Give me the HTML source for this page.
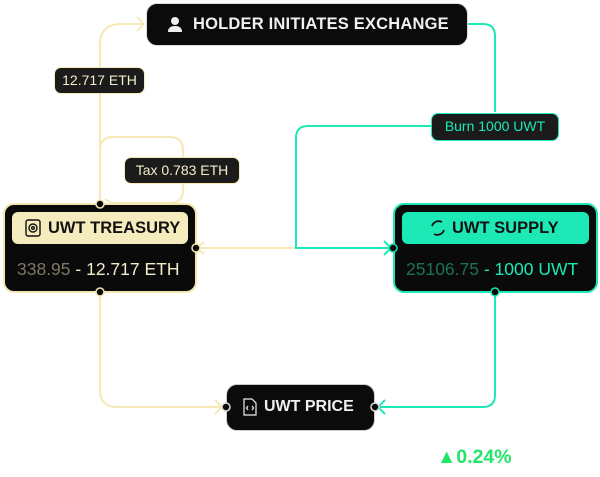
<!DOCTYPE html>
<html><head><style>
body{margin:0;width:600px;height:477px;background:#fff;position:relative;overflow:hidden;font-family:"Liberation Sans",sans-serif}
.n{position:absolute;box-sizing:border-box}
</style></head><body>
<svg width="600" height="477" style="position:absolute;left:0;top:0" fill="none">
<g stroke="#f5e9b8" stroke-width="2">
<path d="M100 204 V45 Q100 24 121 24 H143"/>
<path d="M137 17 L144 24 L137 31"/>
<path d="M100 204 V150 Q100 137 113 137 H170 Q183 137 183 150 V190 Q183 203 170 203 H112 L105 199"/>
<path d="M296 248 H198"/>
<path d="M204 242 L197 248 L204 254"/>
<path d="M100 292 V390 Q100 407 117 407 H222"/>
<path d="M215 400 L222 407 L215 414"/>
</g>
<g stroke="#1de9b6" stroke-width="2">
<path d="M468 24 H483 Q495 24 495 36 V112"/>
<path d="M431 126 H308 Q296 126 296 138 V248 H391"/>
<path d="M384 241 L391 248 L384 255"/>
<path d="M495 292 V395 Q495 407 483 407 H378"/>
<path d="M385 400 L378 407 L385 414"/>
</g>
</svg>

<div class="n" style="left:146px;top:3px;width:322px;height:43px;background:#0b0b0b;border:1.5px solid #ddd;border-radius:11px;color:#f0f0f0;font-weight:bold;font-size:16.5px;line-height:40px;padding-left:46px;letter-spacing:.2px;white-space:nowrap">HOLDER INITIATES EXCHANGE
<svg width="16" height="16" style="position:absolute;left:20px;top:12px"><circle cx="8" cy="5" r="4" fill="#eee"/><path d="M1 16 Q1 10 8 10 Q15 10 15 16Z" fill="#eee"/></svg></div>

<div class="n" style="left:54px;top:67px;width:91px;height:27px;background:#1b1b1b;border:1.5px solid #f5e9b8;border-radius:7px;color:#f5ecc8;font-size:14px;line-height:24px;text-align:center">12.717 ETH</div>
<div class="n" style="left:124px;top:157px;width:116px;height:27px;background:#1b1b1b;border:1.5px solid #f5e9b8;border-radius:7px;color:#f5ecc8;font-size:14px;line-height:24px;text-align:center">Tax 0.783 ETH</div>
<div class="n" style="left:431px;top:113px;width:128px;height:28px;background:#1b1b1b;border:1.5px solid #1de9b6;border-radius:7px;color:#1de9b6;font-size:14px;line-height:25px;text-align:center">Burn 1000 UWT</div>

<div class="n" style="left:3px;top:203px;width:194px;height:90px;background:#0a0a0a;border:2px solid #f3e6b0;border-radius:11px">
<div class="n" style="left:7px;top:7px;width:176px;height:32px;background:#f5ebbc;border-radius:6px;color:#111;font-weight:bold;font-size:16.5px;line-height:32px;padding-left:36px;white-space:nowrap">UWT TREASURY
<svg width="16" height="18" fill="none" style="position:absolute;left:13px;top:7px" stroke="#111" stroke-width="1.4"><rect x="1" y="1" width="14" height="16" rx="2"/><circle cx="8" cy="9" r="4"/><circle cx="8" cy="9" r="1.3"/></svg></div>
<div style="position:absolute;left:12px;top:54px;font-size:17.5px;color:#f4ecc8;white-space:nowrap"><span style="color:#7d7764">338.95</span> - 12.717 ETH</div>
</div>

<div class="n" style="left:393px;top:203px;width:205px;height:90px;background:#0a0a0a;border:2px solid #1de9b6;border-radius:11px">
<div class="n" style="left:7px;top:7px;width:187px;height:32px;background:#1de9b6;border-radius:6px;color:#111;font-weight:bold;font-size:16.5px;line-height:32px;padding-left:50px;white-space:nowrap">UWT SUPPLY
<svg width="18" height="18" fill="none" style="position:absolute;left:27px;top:7px" stroke="#111" stroke-width="1.8"><path d="M3 7 A7 7 0 0 1 13 3 M15 11 A7 7 0 0 1 5 15"/></svg></div>
<div style="position:absolute;left:11px;top:54px;font-size:17.5px;color:#1de9b6;white-space:nowrap"><span style="color:#1c7258">25106.75</span> - 1000 UWT</div>
</div>

<div class="n" style="left:226px;top:384px;width:149px;height:47px;background:#0b0b0b;border:1.5px solid #ccc;border-radius:11px;color:#f0f0f0;font-weight:bold;font-size:16px;line-height:44px;padding-left:37px">UWT PRICE
<svg width="14" height="18" fill="none" style="position:absolute;left:16px;top:13px" stroke="#eee" stroke-width="1.2"><path d="M1 1 H9 L13 5 V17 H1Z"/><path d="M5 8 L3.5 10 L5 12 M9 8 L10.5 10 L9 12"/></svg></div>

<div style="position:absolute;left:437px;top:446px;color:#22e56a;font-weight:bold;font-size:19.5px">▲0.24%</div>

<svg width="600" height="477" style="position:absolute;left:0;top:0">
<g fill="#0a0a0a" stroke="#f3e6b0" stroke-width="1.5">
<circle cx="100" cy="204" r="4"/><circle cx="196" cy="248" r="4"/><circle cx="100" cy="292" r="4"/>
</g>
<g fill="#0a0a0a" stroke="#1de9b6" stroke-width="1.5">
<circle cx="393" cy="248" r="4"/><circle cx="495" cy="292" r="4"/>
</g>
<g fill="#0a0a0a" stroke="#ddd" stroke-width="1.5">
<circle cx="226" cy="407" r="4"/><circle cx="375" cy="407" r="4"/>
</g>
</svg>
</body></html>
